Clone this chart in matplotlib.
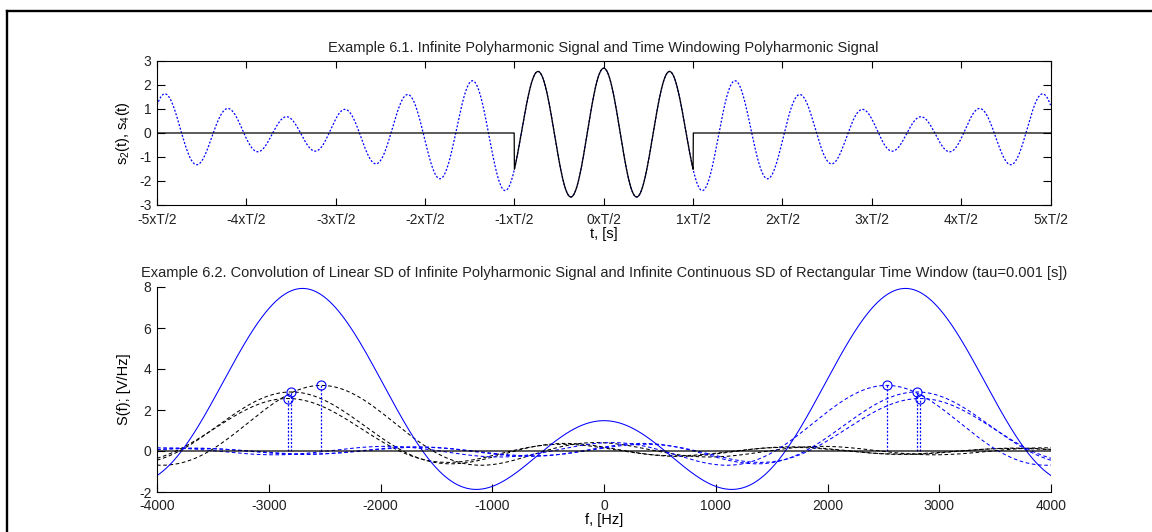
import numpy as np
import matplotlib
matplotlib.use("Agg")
import matplotlib.pyplot as plt
from matplotlib.lines import Line2D

# ---- signal description -------------------------------------------------
# Polyharmonic signal: three cosine components (frequency, amplitude)
freqs_hz = [2530.0, 2800.0, 2830.0]
amplitudes_v = [1.0, 0.9, 0.8]
# Heights of the linear spectral density lines at +/- each frequency
line_sd = [3.2, 2.88, 2.56]
# Rectangular time window duration
tau_s = 0.001

# ---- axis ticks ----------------------------------------------------------
time_tick_multiples = [-5, -4, -3, -2, -1, 0, 1, 2, 3, 4, 5]
time_tick_labels = [f"{k}xT/2" for k in time_tick_multiples]
time_yticks = [-3, -2, -1, 0, 1, 2, 3]
freq_xticks = [-4000, -3000, -2000, -1000, 0, 1000, 2000, 3000, 4000]
freq_yticks = [-2, 0, 2, 4, 6, 8]

TITLE_1 = "Example 6.1. Infinite Polyharmonic Signal and Time Windowing Polyharmonic Signal"
TITLE_2 = ("Example 6.2. Convolution of Linear SD of Infinite Polyharmonic Signal and "
           "Infinite Continuous SD of Rectangular Time Window (tau=0.001 [s])")

plt.rcParams["font.family"] = ["Liberation Sans", "DejaVu Sans"]
plt.rcParams["mathtext.default"] = "regular"
plt.rcParams["axes.unicode_minus"] = False
plt.rcParams["font.size"] = 10
plt.rcParams["text.color"] = "#222222"
plt.rcParams["xtick.color"] = "black"
plt.rcParams["ytick.color"] = "black"
plt.rcParams["xtick.labelcolor"] = "#222222"
plt.rcParams["ytick.labelcolor"] = "#222222"

W, H = 1152, 532
fig = plt.figure(figsize=(W / 100, H / 100), dpi=100)


def fig_rect(x0, y0, x1, y1):
    """Pixel box (top-left origin) -> figure fraction rect."""
    return [x0 / W, 1 - y1 / H, (x1 - x0) / W, (y1 - y0) / H]


ax1 = fig.add_axes(fig_rect(157, 61, 1050.5, 205))
ax2 = fig.add_axes(fig_rect(157, 287, 1051, 492))

DOTTED = (0, (1.6, 1.4))
DASHED = (0, (3.5, 2.5))

# ---- time domain ---------------------------------------------------------
half_T = tau_s / 2
t = np.linspace(-5 * half_T, 5 * half_T, 4001)
s_inf = np.zeros_like(t)
for f0, a0 in zip(freqs_hz, amplitudes_v):
    s_inf += a0 * np.cos(2 * np.pi * f0 * t)
s_win = np.where(np.abs(t) <= half_T, s_inf, 0.0)

ax1.plot(t, s_inf, color="blue", lw=0.9, linestyle=DOTTED)
ax1.plot(t, s_win, color="black", lw=0.9)

ax1.set_xlim(-5 * half_T, 5 * half_T)
ax1.set_ylim(-3, 3)
ax1.set_xticks([k * half_T for k in time_tick_multiples])
ax1.set_xticklabels(time_tick_labels)
ax1.set_yticks(time_yticks)
ax1.tick_params(direction="in", top=True, right=True, width=0.8)
ax1.tick_params(axis="x", length=5, pad=6)
ax1.tick_params(axis="y", length=6, pad=4)
for sp in ax1.spines.values():
    sp.set_linewidth(0.8)
ax1.set_title(TITLE_1, pad=6.5, fontsize=10.5)
ax1.set_xlabel("t, [s]", labelpad=0, fontsize=10.5)
ax1.set_ylabel("s$_2$(t), s$_4$(t)", fontsize=10.5)
ax1.yaxis.set_label_coords((132 - 157) / 893.5, 0.5)

# ---- frequency domain ----------------------------------------------------
f = np.linspace(-4000, 4000, 4001)
total = np.zeros_like(f)
neg_curves, pos_curves = [], []
for f0, h0 in zip(freqs_hz, line_sd):
    neg = h0 * np.sinc((f + f0) * tau_s)
    pos = h0 * np.sinc((f - f0) * tau_s)
    neg_curves.append(neg)
    pos_curves.append(pos)
    total += neg + pos

for c in neg_curves:
    ax2.plot(f, c, color="black", lw=0.75, linestyle=DASHED)
for c in pos_curves:
    ax2.plot(f, c, color="blue", lw=0.75, linestyle=DASHED)

for f0, h0 in zip(freqs_hz, line_sd):
    for fc in (-f0, f0):
        ax2.plot([fc, fc], [0, h0], color="blue", lw=0.9, linestyle=DOTTED)
        ax2.plot([fc], [h0], marker="o", markersize=6.5, markerfacecolor="none",
                 markeredgecolor="blue", markeredgewidth=0.8, linestyle="none")

ax2.plot(f, total, color="blue", lw=0.75)
ax2.plot(f, np.zeros_like(f), color="black", lw=0.9)

ax2.set_xlim(-4000, 4000)
ax2.set_ylim(-2, 8)
ax2.set_xticks(freq_xticks)
ax2.set_yticks(freq_yticks)
ax2.spines["top"].set_visible(False)
ax2.spines["right"].set_visible(False)
for sp in ax2.spines.values():
    sp.set_linewidth(0.8)
ax2.tick_params(direction="in", length=5.5, width=0.8)
ax2.tick_params(axis="x", pad=5)
ax2.tick_params(axis="y", pad=4)
ax2.set_title(TITLE_2, pad=7, fontsize=10.5)
ax2.set_xlabel("f, [Hz]", labelpad=0, fontsize=10.5)
ax2.set_ylabel("S(f); [V/Hz]", fontsize=10.5)
ax2.yaxis.set_label_coords((131 - 157) / 894, 0.5)

# ---- frame around the figure --------------------------------------------
fig.add_artist(Line2D([7 / W, 1.0], [1 - 10.5 / H, 1 - 10.5 / H],
                      transform=fig.transFigure, color="black", lw=1.7))
fig.add_artist(Line2D([7 / W, 7 / W], [0.0, 1 - 10.5 / H],
                      transform=fig.transFigure, color="black", lw=1.7))

fig.savefig("out.png", dpi=100)
